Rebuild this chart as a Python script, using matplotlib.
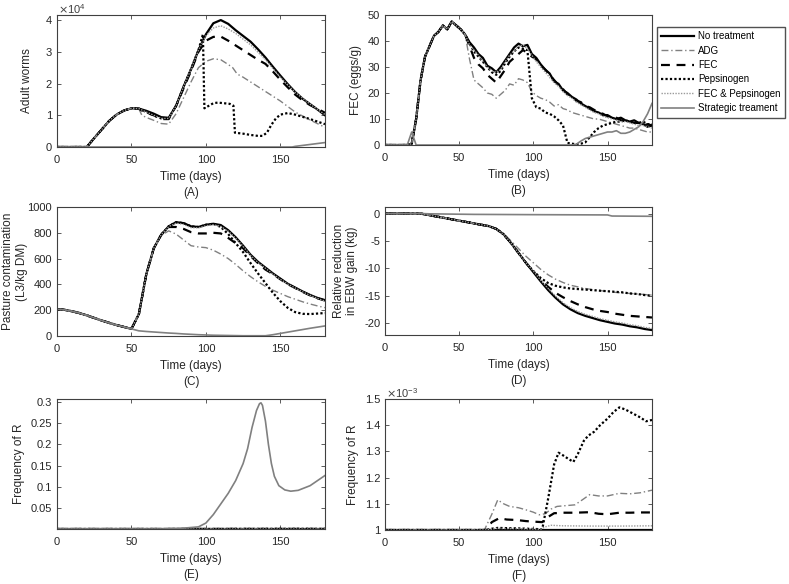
import matplotlib
matplotlib.use('Agg')
import matplotlib.pyplot as plt
from matplotlib.ticker import FormatStrFormatter
import numpy as np

plt.rcParams['font.family'] = ['Liberation Sans', 'DejaVu Sans']
plt.rcParams['axes.unicode_minus'] = False

# ---------- (A) adult worms, x10^4 ----------
nt_a_days = [0, 5, 10, 15, 20, 25, 30, 35, 40, 45, 50, 55, 60, 65, 70, 75, 80, 85, 90, 95, 100,
             105, 110, 115, 120, 125, 130, 135, 140, 145, 150, 155, 160, 165, 170, 175, 180]
nt_a = [0, 0, 0, 0, 0, 0.28, 0.55, 0.82, 1.02, 1.15, 1.22, 1.21, 1.14, 1.05, 0.94, 0.92, 1.3,
        1.9, 2.45, 3.05, 3.55, 3.9, 4.0, 3.88, 3.68, 3.5, 3.32, 3.08, 2.82, 2.53, 2.25, 1.98,
        1.73, 1.52, 1.35, 1.18, 1.0]
adg_a_days = [0, 5, 10, 15, 20, 25, 30, 35, 40, 45, 50, 55, 57, 60, 65, 70, 75, 80, 85, 90, 95,
              100, 105, 110, 115, 118, 121, 125, 130, 140, 150, 160, 170, 180]
adg_a = [0, 0, 0, 0, 0, 0.28, 0.55, 0.82, 1.02, 1.15, 1.22, 1.2, 1.0, 0.93, 0.84, 0.74, 0.72,
         1.05, 1.55, 2.05, 2.5, 2.7, 2.78, 2.75, 2.6, 2.5, 2.3, 2.2, 2.05, 1.75, 1.45, 1.1, 0.85, 0.62]
fec_a_days = [0, 5, 10, 15, 20, 25, 30, 35, 40, 45, 50, 55, 57, 60, 65, 70, 75, 80, 85, 90, 95,
              100, 105, 110, 115, 120, 125, 130, 135, 140, 145, 150, 155, 160, 165, 170, 175, 180]
fec_a = [0, 0, 0, 0, 0, 0.28, 0.55, 0.82, 1.02, 1.15, 1.22, 1.21, 1.15, 1.08, 1.0, 0.88, 0.88,
         1.3, 1.85, 2.4, 3.0, 3.35, 3.47, 3.48, 3.35, 3.2, 3.05, 2.9, 2.75, 2.62, 2.38, 2.12,
         1.88, 1.65, 1.47, 1.32, 1.2, 1.08]
pep_a_days = [0, 5, 10, 15, 20, 25, 30, 35, 40, 45, 50, 55, 60, 65, 70, 75, 80, 85, 90, 95, 98,
              99, 102, 105, 108, 112, 116, 118.5, 119.5, 125, 130, 135, 138, 141, 144, 147, 150,
              155, 160, 165, 170, 175, 180]
pep_a = [0, 0, 0, 0, 0, 0.28, 0.55, 0.82, 1.02, 1.15, 1.22, 1.21, 1.1, 1.0, 0.9, 0.9, 1.3, 1.9,
         2.45, 3.05, 3.55, 1.22, 1.3, 1.38, 1.4, 1.38, 1.36, 1.3, 0.45, 0.42, 0.38, 0.35, 0.35,
         0.45, 0.7, 0.9, 1.02, 1.07, 1.02, 0.95, 0.88, 0.8, 0.72]
fecpep_a_days = [0, 5, 10, 15, 20, 25, 30, 35, 40, 45, 50, 55, 60, 65, 70, 75, 80, 85, 90, 95,
                 100, 105, 110, 115, 120, 130, 140, 150, 160, 170, 180]
fecpep_a = [0, 0, 0, 0, 0, 0.28, 0.55, 0.82, 1.02, 1.15, 1.22, 1.21, 1.1, 1.0, 0.9, 0.9, 1.3,
            1.9, 2.45, 3.05, 3.5, 3.75, 3.82, 3.72, 3.58, 3.22, 2.75, 2.2, 1.72, 1.35, 1.02]
strat_a_days = [0, 158, 160, 165, 170, 175, 180]
strat_a = [0, 0, 0.02, 0.05, 0.08, 0.11, 0.14]

# ---------- (B) FEC, eggs/g, every 3 days ----------
days_b = np.arange(0, 181, 3)
b_early = [0, 0, 0, 0, 0, 0, 0.5, 10, 25, 34, 38, 42, 43.5, 46, 44.5, 47.5, 46, 44.5, 42.5]  # days 0-54
nt_b_late = [39.5, 37.5, 35, 33.5, 30.5, 29.5, 28, 30, 32.5, 35, 37.5, 39, 38, 38.5, 35, 33.5,
             31, 29, 27.5, 24.5, 23.5, 21, 20, 18.5, 17.5, 16, 15, 14, 13, 12.5, 11.5, 11.5,
             10.5, 10, 10.5, 9.5, 9, 9.5, 8.5, 8, 7, 7.5]
adg_b_late = [33, 25, 23.5, 22, 20, 19.5, 18, 19.5, 21, 23.5, 23, 25.5, 25, 24, 20.5, 19, 18,
              17.5, 16.5, 15, 15.5, 14, 13.5, 12.5, 12, 11.5, 11, 10.5, 10, 10, 9.5, 9, 8.5, 8,
              7.5, 7, 6.5, 6.5, 6, 5.5, 5, 5]
fec_b_late = [38, 33.5, 31, 29.5, 27, 25.5, 24, 26.5, 29, 32, 33.5, 35, 36.5, 35.5, 34, 33,
              30.5, 29, 27, 25, 23, 21.5, 19.5, 18.5, 17, 16.5, 15, 14.5, 13.5, 12.5, 12, 11,
              11, 10.5, 9.5, 9.5, 9, 8.5, 8.5, 7.5, 8, 7.5]
pep_b_late = [39, 36, 34, 32, 30, 28, 27, 28.5, 31.5, 34, 36, 37.5, 37, 36.5, 18, 14.5, 14,
              12.5, 12, 11, 9.5, 7.5, 0.8, 0.5, 0.3, 0.5, 1, 3, 5, 6.5, 7.5, 8, 8.5, 9, 9, 9.5,
              9, 8.5, 8.5, 9, 8, 8]
fecpep_b_late = [38.5, 36.5, 34.5, 32, 30, 28.5, 28, 29, 32, 34.5, 36, 38, 38.5, 37, 34.5, 32,
                 30, 28, 26, 24, 22.5, 20.5, 19, 18, 16.5, 15.5, 14.5, 13.5, 12.5, 12, 11, 10.5,
                 10, 9.5, 9, 9, 8.5, 8, 7.5, 7.5, 7, 6.5]
strat_b = [0, 0, 0, 0, 0, 0, 5, 0, 0, 0, 0, 0, 0, 0, 0, 0, 0, 0, 0, 0, 0, 0, 0, 0, 0, 0, 0, 0,
           0, 0, 0, 0, 0, 0, 0, 0, 0, 0, 0, 0, 0, 0, 0, 0.3, 1.5, 2.5, 3, 3.5, 4, 4.5, 5, 5, 5.5,
           4.5, 4.5, 5, 6, 7, 9, 12, 16]

# ---------- (C) pasture contamination, L3/kg DM ----------
days_c = np.arange(0, 181, 5)
c_early = [207, 203, 192, 178, 160, 140, 120, 102, 85, 70, 55]  # days 0-50
nt_c_late = [170, 480, 680, 785, 850, 882, 875, 850, 845, 862, 870, 860, 820, 765, 700, 630,
             575, 530, 485, 445, 405, 375, 345, 318, 295, 278]
adg_c_late = [170, 480, 680, 780, 815, 790, 745, 700, 690, 685, 665, 635, 600, 555, 505, 460,
              420, 385, 355, 330, 305, 285, 265, 248, 233, 220]
fec_c_late = [170, 480, 680, 785, 845, 845, 830, 805, 795, 795, 800, 795, 760, 720, 680, 620,
              565, 515, 480, 440, 402, 372, 342, 315, 292, 275]
pep_c_late = [170, 480, 680, 785, 850, 882, 875, 850, 845, 862, 870, 845, 790, 720, 650, 565,
              485, 410, 335, 270, 218, 185, 172, 170, 174, 178]
fecpep_c_late = [170, 480, 680, 785, 848, 875, 865, 840, 838, 855, 862, 850, 812, 758, 695,
                 625, 570, 525, 480, 440, 402, 372, 342, 315, 292, 270]
strat_c_late = [40, 35, 31, 27, 23, 20, 16, 13, 10, 8, 6, 5, 4, 3, 2, 2, 2, 2, 10, 20, 30, 40,
                50, 60, 69, 78]

# ---------- (D) relative reduction in EBW gain, kg ----------
days_d = np.arange(0, 181, 5)
d_early = [0, 0, 0, 0, 0, -0.05, -0.3, -0.55, -0.8, -1.05, -1.3, -1.55, -1.8, -2.05, -2.3, -2.8]  # 0-75
nt_d_late = [-3.8, -5.4, -7.2, -9.0, -10.7, -12.4, -14.0, -15.4, -16.6, -17.5, -18.2, -18.7,
             -19.1, -19.5, -19.8, -20.1, -20.3, -20.6, -20.8, -21.1, -21.3]
adg_d_late = [-3.7, -5.0, -6.4, -7.8, -9.0, -10.2, -11.2, -12.0, -12.6, -13.1, -13.4, -13.7,
              -13.9, -14.1, -14.2, -14.4, -14.5, -14.6, -14.7, -14.8, -14.9]
fec_d_late = [-3.8, -5.4, -7.2, -9.0, -10.6, -12.1, -13.4, -14.5, -15.3, -16.0, -16.6, -17.1,
              -17.5, -17.8, -18.0, -18.3, -18.5, -18.7, -18.8, -18.9, -19.0]
pep_d_late = [-3.8, -5.4, -7.2, -9.0, -10.5, -11.8, -12.7, -13.2, -13.5, -13.7, -13.8, -13.9,
              -14.0, -14.1, -14.2, -14.3, -14.4, -14.6, -14.7, -14.9, -15.0]
fecpep_d_late = [-3.8, -5.4, -7.2, -9.0, -10.5, -12.2, -13.7, -15.1, -16.3, -17.2, -17.9, -18.4,
                 -18.8, -19.2, -19.5, -19.8, -20.0, -20.3, -20.5, -20.8, -21.0]
strat_d_days = [0, 25, 30, 60, 100, 150, 153, 180]
strat_d = [0, 0, -0.05, -0.15, -0.2, -0.25, -0.45, -0.5]

# ---------- (E)/(F) frequency of R, x10^-3 ----------
nt_f_days = [0, 180]
nt_f = [1.0, 1.0]
adg_f_days = [0, 67, 72, 76, 80, 84, 90, 95, 100, 104, 108, 112, 116, 122, 128, 133, 138, 144,
              150, 158, 165, 172, 180]
adg_f = [1.0, 1.0, 1.06, 1.115, 1.1, 1.09, 1.085, 1.077, 1.068, 1.058, 1.062, 1.08, 1.09, 1.093,
         1.096, 1.115, 1.135, 1.13, 1.13, 1.14, 1.138, 1.142, 1.152]
fec_f_days = [0, 68, 72, 77, 82, 89, 95, 100, 106, 110, 114, 120, 128, 138, 144, 150, 158, 165,
              172, 180]
fec_f = [1.0, 1.0, 1.03, 1.045, 1.04, 1.038, 1.034, 1.032, 1.03, 1.05, 1.064, 1.066, 1.066,
         1.068, 1.062, 1.06, 1.066, 1.066, 1.067, 1.067]
pep_f_days = [0, 68, 72, 76, 90, 100, 106, 110, 114, 117, 120, 124, 127, 130, 134, 137, 141,
              145, 150, 154, 158, 162, 167, 172, 176, 180]
pep_f = [1.0, 1.0, 1.005, 1.008, 1.006, 1.004, 1.003, 1.12, 1.25, 1.295, 1.285, 1.27, 1.26,
         1.29, 1.34, 1.36, 1.375, 1.4, 1.425, 1.45, 1.468, 1.46, 1.445, 1.43, 1.415, 1.42]
fecpep_f_days = [0, 68, 75, 90, 105, 108, 112, 120, 140, 160, 180]
fecpep_f = [1.0, 1.0, 1.006, 1.005, 1.003, 1.012, 1.018, 1.016, 1.015, 1.015, 1.016]
strat_e_days = [0, 68, 75, 85, 95, 100, 105, 110, 115, 120, 125, 128, 131, 134, 136, 137, 138,
                140, 142, 144, 146, 149, 153, 157, 162, 170, 180]
strat_e = [0.001, 0.001, 0.0015, 0.003, 0.006, 0.015, 0.035, 0.06, 0.085, 0.115, 0.155, 0.19,
           0.24, 0.28, 0.296, 0.298, 0.292, 0.255, 0.2, 0.155, 0.125, 0.103, 0.093, 0.09,
           0.092, 0.103, 0.127]

labels = ['No treatment', 'ADG', 'FEC', 'Pepsinogen', 'FEC & Pepsinogen', 'Strategic treament']
gray = '#808080'
styles = [dict(color='black', lw=1.6, ls='-'),
          dict(color=gray, lw=1.0, ls=(0, (5, 2, 1, 2))),
          dict(color='black', lw=1.6, ls=(0, (4, 3))),
          dict(color='black', lw=1.6, ls=(0, (1, 1))),
          dict(color='#9a9a9a', lw=1.0, ls=(0, (1, 1))),
          dict(color=gray, lw=1.2, ls='-')]

W, H = 789, 584
fig = plt.figure(figsize=(W / 100, H / 100), dpi=100)


def add_ax(x0, y0, x1, y1):
    return fig.add_axes([x0 / W, 1 - y1 / H, (x1 - x0) / W, (y1 - y0) / H])


ax_a = add_ax(57, 15, 325, 147)
ax_b = add_ax(385, 15, 652, 145)
ax_c = add_ax(57, 207, 325, 336)
ax_d = add_ax(385, 207, 652, 335)
ax_e = add_ax(57, 399, 325, 529)
ax_f = add_ax(385, 399, 652, 530)

# A
a_series = [(nt_a_days, nt_a), (adg_a_days, adg_a), (fec_a_days, fec_a), (pep_a_days, pep_a),
            (fecpep_a_days, fecpep_a), (strat_a_days, strat_a)]
for (d, v), st in zip(a_series, styles):
    ax_a.plot(d, v, **st)
ax_a.set_ylim(0, 4.16)
ax_a.set_yticks([0, 1, 2, 3, 4])
ax_a.set_ylabel('Adult worms')
fig.text(58 / W, 1 - 9 / H, r'$\times\mathregular{10^{4}}$', fontsize=8, color='#404040', va='center')

# B
b_series = [b_early + nt_b_late, b_early + adg_b_late, b_early + fec_b_late,
            b_early + pep_b_late, b_early + fecpep_b_late, strat_b]
handles = []
for v, st, lab in zip(b_series, styles, labels):
    h, = ax_b.plot(days_b, v, label=lab, **st)
    handles.append(h)
ax_b.set_ylim(0, 50)
ax_b.set_yticks([0, 10, 20, 30, 40, 50])
ax_b.set_ylabel('FEC (eggs/g)')

# C
c_series = [c_early + nt_c_late, c_early + adg_c_late, c_early + fec_c_late,
            c_early + pep_c_late, c_early + fecpep_c_late, c_early + strat_c_late]
for v, st in zip(c_series, styles):
    ax_c.plot(days_c, v, **st)
ax_c.set_ylim(0, 1000)
ax_c.set_yticks([0, 200, 400, 600, 800, 1000])
ax_c.set_ylabel('Pasture contamination\n(L3/kg DM)')

# D
d_series = [d_early + nt_d_late, d_early + adg_d_late, d_early + fec_d_late,
            d_early + pep_d_late, d_early + fecpep_d_late]
for v, st in zip(d_series, styles[:5]):
    ax_d.plot(days_d, v, **st)
ax_d.plot(strat_d_days, strat_d, **styles[5])
ax_d.set_ylim(-22.2, 1.2)
ax_d.set_yticks([-20, -15, -10, -5, 0])
ax_d.set_ylabel('Relative reduction\nin EBW gain (kg)')

# E and F
f_series = [(nt_f_days, nt_f), (adg_f_days, adg_f), (fec_f_days, fec_f),
            (pep_f_days, pep_f), (fecpep_f_days, fecpep_f)]
for (d, v), st in zip(f_series, styles[:5]):
    ax_e.plot(d, np.array(v) * 1e-3, **st)
    ax_f.plot(d, v, **st)
ax_e.plot(strat_e_days, strat_e, **styles[5])
ax_e.set_ylim(0.001, 0.307)
ax_e.set_yticks([0.05, 0.1, 0.15, 0.2, 0.25, 0.3])
ax_e.yaxis.set_major_formatter(FormatStrFormatter('%g'))
ax_e.set_ylabel('Frequency of R')

ax_f.set_ylim(1.0, 1.5)
ax_f.set_yticks([1, 1.1, 1.2, 1.3, 1.4, 1.5])
ax_f.yaxis.set_major_formatter(FormatStrFormatter('%g'))
ax_f.set_ylabel('Frequency of R')
fig.text(386 / W, 1 - 393 / H, r'$\times\mathregular{10^{-3}}$', fontsize=8, color='#404040', va='center')

for ax, tag in zip([ax_a, ax_b, ax_c, ax_d, ax_e, ax_f], 'ABCDEF'):
    ax.set_xlim(0, 180)
    ax.set_xticks([0, 50, 100, 150])
    ax.set_xlabel('Time (days)\n(%s)' % tag, fontsize=8.5, linespacing=1.5, color='#262626')
    ax.yaxis.label.set_fontsize(8.5)
    ax.yaxis.label.set_color('#262626')
    ax.tick_params(direction='in', top=True, right=True, length=3, width=0.6,
                   labelsize=8, colors='#404040', labelcolor='#262626')
    ax.tick_params(axis='x', pad=6)
    for sp in ax.spines.values():
        sp.set_color('#404040')
        sp.set_linewidth(0.8)

ax_c.yaxis.set_label_coords(-0.108, 0.5)
ax_a.yaxis.set_label_coords(-0.09, 0.5)

fig.legend(handles, labels, loc='upper left', bbox_to_anchor=(657 / W, 1 - 27 / H),
           fontsize=7, frameon=True, fancybox=False, edgecolor='#262626',
           handlelength=3.4, handletextpad=0.35, labelspacing=0.45, borderpad=0.45,
           borderaxespad=0)

fig.savefig('out.png', dpi=100)
